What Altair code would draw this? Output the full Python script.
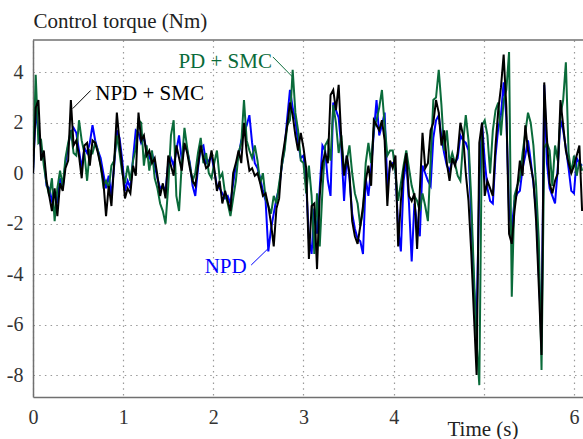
import altair as alt
import pandas as pd

# NPD + SMC (black)
npd_smc = [0.0, 2.6, 2.9, 0.5, 0.9, -0.3, -0.9, -1.5, -0.6, -1.7,
           -0.4, -0.7, 0.2, 0.5, 2.9, 1.1, 1.3, 0.7, -0.2, 1.1,
           1.2, 0.3, 1.3, 1.2, 0.8, 0.3, -0.3, -1.7, -0.5, -1.3,
           0.4, 2.4, 1.2, 0.2, -1.0, -0.6, -0.8, 0.3, -0.1, 2.4,
           1.3, 1.5, 0.7, 0.9, 0.4, 0.6, -0.1, -0.9, -0.4, -1.0,
           0.7, 0.3, -0.1, 1.1, 0.6, 0.1, 1.2, 0.8, 0.2, -0.3,
           -0.5, 0.3, 1.1, 0.6, 0.2, 0.3, 0.9, 0.2, -0.7, -0.3,
           -1.2, -0.7, -1.1, -1.5, 0.0, 0.4, 0.9, 0.4, 2.0, 0.8,
           0.1, 0.2, -0.1, 0.0, -0.4, -0.9, -0.8, -1.3, -2.0, -2.9,
           -1.4, -1.0, 0.5, 1.2, 1.9, 2.8, 2.3, 1.5, 0.9, 1.6,
           1.0, 0.2, -3.4, -1.3, -1.2, -3.8, -0.9, 0.4, 0.8, 0.4,
           3.1, 3.3, 2.5, 3.5, 1.3, -0.1, 0.7, 0.0, -1.9, -2.5,
           -2.8, -2.1, -1.3, -0.3, 0.3, -0.5, 2.1, 1.9, 1.7, 2.1,
           1.3, -1.3, 0.5, 0.2, 0.7, -2.9, -1.1, 0.1, 0.8, -0.9,
           -1.1, -0.8, -3.0, -0.7, 1.6, 0.2, 0.4, 1.7, 2.0, 2.9,
           2.4, 1.1, 1.7, 0.4, -0.3, 0.6, 0.3, 0.8, 2.0, 1.5,
           0.0, -1.1, -3.1, -5.6, -8.0, 1.2, 2.0, -0.9, -0.3, -0.6,
           -0.9, 1.1, 2.5, 3.4, 4.7, 2.6, -2.4, -2.8, -1.5, -0.6,
           0.5, -0.1, 1.9, 0.9, 0.3, -0.3, -1.9, -4.5, -7.2, 3.6,
           1.4, -0.4, -0.8, -0.3, 0.0, 2.9, 1.9, 0.9, 0.4, 0.0,
           0.3, 0.7, 1.1, -1.5]

# PD + SMC (green)
pd_smc = [0.0, 3.9, 1.2, 1.3, 0.3, -0.4, -0.9, -0.2, -1.9, -0.6,
          0.1, -0.5, 0.6, 1.2, 1.7, 0.8, 0.7, 2.1, 1.3, 0.8,
          -0.3, 0.9, 0.8, 1.2, 0.9, 0.3, -0.5, -0.3, -0.6, 0.3,
          0.5, 1.5, 0.8, 0.0, -0.4, 0.3, -0.3, 0.5, 1.0, 2.1,
          2.0, 0.3, 1.1, 0.1, 0.9, -0.2, -0.6, -1.2, -1.5, -2.0,
          -0.5, 1.5, 2.1, -0.9, -1.5, 0.4, 1.8, 1.0, 0.3, -0.3,
          0.0, 0.8, 1.4, 0.4, 0.8, 0.0, -0.2, 0.4, 0.9, -0.2,
          0.0, -0.8, -1.2, -1.7, -1.0, -0.3, 0.8, 1.2, 2.9, 1.3,
          0.9, 0.6, 1.1, 0.5, -0.4, 0.0, -1.0, -1.3, -1.6, -0.9,
          -1.2, -0.4, 0.3, 0.9, 1.9, 2.1, 4.1, 2.4, 1.7, 0.5,
          0.4, -0.8, 0.3, -0.9, -3.2, -0.8, -2.9, -0.7, 1.1, 1.3,
          0.5, 2.7, 2.0, 0.8, 1.5, 0.1, 0.5, 1.1, 0.0, -0.8,
          -1.2, -2.1, -1.5, 0.4, 1.2, 0.4, 1.8, 2.1, 2.6, 3.3,
          1.9, 0.7, 0.9, 0.9, 0.0, -1.1, -0.4, 0.3, 0.9, 0.2,
          -0.5, -0.9, -1.1, -1.5, -0.8, -1.3, -1.9, 0.5, 2.9, 3.0,
          4.1, 2.7, 0.9, 1.7, 0.4, 0.8, 0.4, -0.1, -0.3, 1.2,
          2.3, 1.3, -1.0, -4.0, -6.7, -8.4, 1.9, 2.1, 1.5, 0.0,
          1.7, 2.5, 2.8, 1.5, 2.9, 3.3, 4.8, -4.9, -0.9, -0.5,
          -0.2, 0.8, 1.6, 2.4, 2.0, 1.1, -0.5, -2.7, -7.8, 1.0,
          1.2, 0.9, -0.5, 1.1, 0.5, 2.3, 2.9, 4.4, 0.8, 0.0,
          0.7, -0.1, 0.5, 0.1]

# NPD (blue)
npd = [0.0, 2.5, 1.6, 1.0, 0.6, -0.5, -0.6, -1.1, -0.8, -1.2,
       -0.2, -0.6, 0.4, 1.1, 1.6, 1.8, 1.6, 0.9, 0.2, 1.0,
       0.8, 1.2, 1.9, 1.3, 0.9, 0.6, 0.0, -0.6, -0.1, -0.9,
       0.3, 1.7, 1.4, 0.5, -0.7, -0.3, -0.6, 0.6, 1.7, 1.6,
       1.2, 1.4, 0.9, 0.6, 0.8, 0.3, -0.2, -0.6, -0.5, -0.7,
       0.4, 0.6, 0.3, 0.9, 1.5, 0.5, 1.1, 0.9, 0.4, -0.5,
       -0.9, 0.2, 1.0, 1.1, 0.4, 0.5, 0.7, 0.1, -0.5, -0.6,
       -0.8, -1.0, -0.9, -1.2, -0.4, 0.3, 0.7, 1.3, 1.6, 1.9,
       2.3, 1.2, 0.4, 0.2, -0.2, -0.7, -1.1, -3.1, -2.2, -1.6,
       -1.0, -0.6, 0.3, 1.0, 2.2, 3.3, 2.6, 2.1, 1.2, 0.6,
       0.7, -0.4, -2.6, -3.2, -1.4, -2.4, -0.6, 1.1, 0.9, -0.3,
       -0.9, 2.8, 2.5, 2.2, 1.0, -1.1, 0.7, -0.2, -1.6, -2.2,
       -2.6, -2.7, -3.2, -0.2, -0.9, 0.2, 1.6, 2.9, 1.5, 1.9,
       2.4, -0.5, 0.3, 0.4, 0.2, -2.2, -3.1, -0.3, 0.5, -1.2,
       -3.5, -1.2, -2.0, -2.5, 0.3, 0.0, -0.3, -0.5, 1.4, 2.1,
       2.3, 1.4, 0.8, 0.3, 0.1, 0.5, 0.4, 0.6, 1.5, 1.3,
       1.2, 0.9, -1.6, -4.5, -6.0, -0.4, 2.0, 0.5, -0.6, -1.1,
       -1.2, 0.7, 1.8, 2.3, 3.6, 2.2, -1.6, -2.2, -1.1, -0.8,
       -0.7, 0.2, 0.7, 1.3, 0.5, -0.4, -1.5, -4.0, -6.5, 3.5,
       0.4, -0.6, -0.9, -1.2, 0.2, 2.1, 1.7, 1.0, 0.2, -0.7,
       -0.8, 0.6, 0.4, 0.3]

time = [round(i * 0.03, 2) for i in range(len(npd_smc))]

x_ticks = [0, 1, 2, 3, 4, 5, 6]
x_hidden_label = 5
y_ticks = [-8, -6, -4, -2, 0, 2, 4]

labels = ["PD + SMC", "NPD + SMC", "NPD"]
label_t = [2.65, 0.69, 2.37]
label_v = [4.19, 2.92, -3.95]
lead_t1 = [2.66, 0.64, 2.42]
lead_v1 = [4.61, 3.28, -3.64]
lead_t2 = [2.88, 0.44, 2.61]
lead_v2 = [3.81, 2.56, -2.98]

GREEN = "#0a6b3a"
BLUE = "#0000ff"
BLACK = "#000000"
FONT = "Liberation Serif, Times New Roman, serif"
W, H = 550, 357

xs = alt.Scale(domain=[0, 6.1], nice=False, zero=False)
ys = alt.Scale(domain=[-8.87, 5.28], nice=False, zero=False)

GRID = dict(grid=True, gridDash=[1.5, 4.2], gridColor="#999999", gridWidth=1.2,
            ticks=False, domainColor="#707070", domainWidth=1.5,
            labelFont=FONT, labelFontSize=20, labelColor="#333333", labelPadding=10,
            titleFont=FONT, titleFontSize=21, titleFontWeight="normal",
            titleColor="#222222", titleAlign="left", titleBaseline="alphabetic")

xaxis = alt.Axis(values=x_ticks, labelFlush=False,
                 labelExpr=f"datum.value == {x_hidden_label} ? '' : '' + datum.value",
                 title="Time (s)", titleX=414, titleY=38, **GRID)
yaxis = alt.Axis(values=y_ticks, labelExpr="'' + datum.value",
                 title="Control torque (Nm)", titleAngle=0, titleX=0, titleY=-13,
                 **GRID)


def series(vals, color):
    df = pd.DataFrame({"t": time, "v": vals})
    return alt.Chart(df).mark_line(color=color, strokeWidth=2, clip=True).encode(
        x=alt.X("t:Q", scale=xs, axis=xaxis),
        y=alt.Y("v:Q", scale=ys, axis=yaxis),
    )


ann = pd.DataFrame({"label": labels, "t": label_t, "v": label_v,
                    "t1": lead_t1, "v1": lead_v1, "t2": lead_t2, "v2": lead_v2})


def note(i, color, align):
    d = ann.iloc[[i]]
    txt = alt.Chart(d).mark_text(color=color, font=FONT, fontSize=21, align=align,
                                 baseline="alphabetic").encode(
        x=alt.X("t:Q", scale=xs, axis=xaxis), y=alt.Y("v:Q", scale=ys, axis=yaxis),
        text="label:N")
    rule = alt.Chart(d).mark_rule(color=color, strokeWidth=1).encode(
        x=alt.X("t1:Q", scale=xs, axis=xaxis), y=alt.Y("v1:Q", scale=ys, axis=yaxis),
        x2="t2:Q", y2="v2:Q")
    return txt + rule


top = alt.Chart(pd.DataFrame({"a": [0]})).mark_rule(color="#707070", strokeWidth=1.5).encode(
    x=alt.value(0), x2=alt.value(W), y=alt.value(0))

chart = alt.layer(
    series(npd, BLUE),
    series(pd_smc, GREEN),
    series(npd_smc, BLACK),
    note(0, GREEN, "right"),
    note(1, BLACK, "left"),
    note(2, BLUE, "right"),
    top,
).properties(
    width=W, height=H,
    autosize=alt.AutoSizeParams(type="none"),
    padding={"left": 33, "top": 40, "right": 0, "bottom": 42},
).configure_view(stroke=None)

chart.save("out.html", embed_options={"renderer": "svg", "actions": False})
